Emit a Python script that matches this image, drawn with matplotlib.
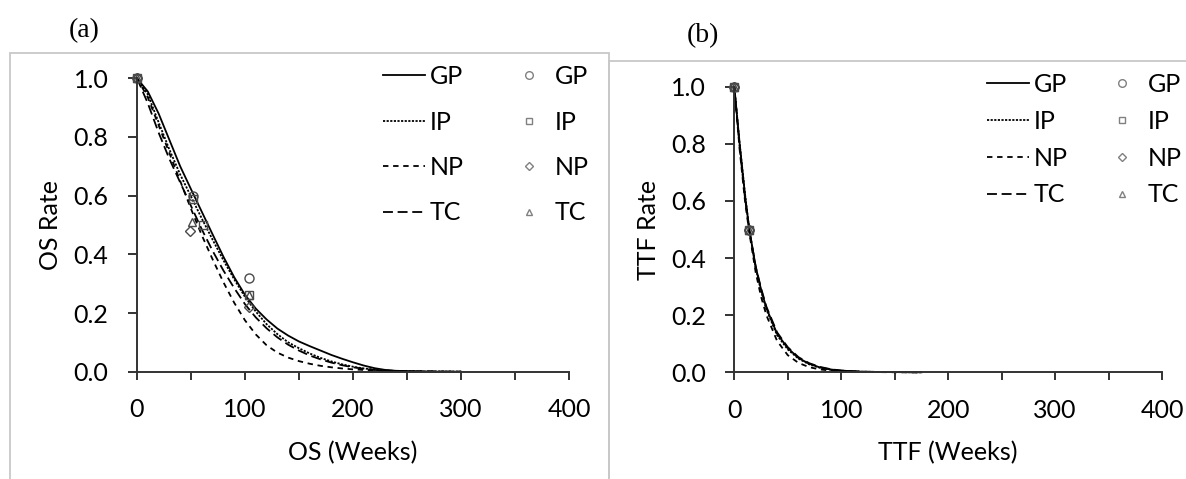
import matplotlib
matplotlib.use('Agg')
import matplotlib.pyplot as plt
from matplotlib.lines import Line2D
from matplotlib.patches import Rectangle

plt.rcParams['font.family'] = ['Lato', 'DejaVu Sans']

# ---------------- data ----------------
groups = ['GP', 'IP', 'NP', 'TC']

os_weeks = [0, 10, 20, 30, 40, 50, 60, 70, 80, 90, 100, 110, 120, 130, 140,
            150, 160, 170, 180, 190, 200, 210, 220, 230, 240, 260, 280, 300]
os_gp = [1.000, 0.955, 0.880, 0.790, 0.700, 0.622, 0.545, 0.468, 0.392, 0.322,
         0.262, 0.215, 0.178, 0.147, 0.123, 0.103, 0.087, 0.072, 0.057, 0.044,
         0.032, 0.021, 0.012, 0.006, 0.003, 0.001, 0.000, 0.000]
os_ip = [1.000, 0.945, 0.850, 0.757, 0.672, 0.597, 0.522, 0.450, 0.380, 0.315,
         0.255, 0.205, 0.162, 0.128, 0.100, 0.080, 0.062, 0.047, 0.035, 0.025,
         0.017, 0.011, 0.007, 0.004, 0.002, 0.001, 0.0005, 0.000]
os_np = [1.000, 0.935, 0.840, 0.745, 0.650, 0.555, 0.465, 0.383, 0.305, 0.235,
         0.175, 0.127, 0.090, 0.065, 0.048, 0.036, 0.027, 0.020, 0.015, 0.011,
         0.008, 0.006, 0.004, 0.003, 0.002, 0.001, 0.0005, 0.000]
os_tc = [1.000, 0.915, 0.815, 0.725, 0.645, 0.565, 0.485, 0.412, 0.345, 0.285,
         0.230, 0.185, 0.148, 0.117, 0.092, 0.072, 0.055, 0.042, 0.031, 0.022,
         0.015, 0.010, 0.006, 0.004, 0.003, 0.001, 0.0005, 0.000]

os_obs_gp_x = [0, 52, 104];      os_obs_gp_y = [1.0, 0.60, 0.32]
os_obs_ip_x = [0, 52, 61, 104];  os_obs_ip_y = [1.0, 0.59, 0.50, 0.26]
os_obs_np_x = [0, 49, 104];      os_obs_np_y = [1.0, 0.48, 0.22]
os_obs_tc_x = [0, 51, 104];      os_obs_tc_y = [1.0, 0.51, 0.26]

ttf_weeks = [0, 5, 10, 14, 20, 25, 30, 40, 50, 60, 70, 80, 90, 100, 120, 140, 160, 175]
ttf_gp = [1.0, 0.80, 0.62, 0.50, 0.37, 0.290, 0.225, 0.135, 0.085, 0.050, 0.030,
          0.017, 0.010, 0.006, 0.002, 0.001, 0.0005, 0.0]
ttf_ip = [1.0, 0.80, 0.625, 0.50, 0.365, 0.285, 0.220, 0.130, 0.080, 0.048, 0.028,
          0.016, 0.009, 0.005, 0.002, 0.001, 0.0005, 0.0]
ttf_np = [1.0, 0.78, 0.60, 0.49, 0.35, 0.265, 0.200, 0.110, 0.060, 0.033, 0.018,
          0.010, 0.006, 0.003, 0.001, 0.0005, 0.0, 0.0]
ttf_tc = [1.0, 0.79, 0.61, 0.50, 0.37, 0.295, 0.230, 0.140, 0.088, 0.053, 0.032,
          0.019, 0.011, 0.006, 0.002, 0.001, 0.0005, 0.0]

ttf_obs_x = [0, 14]
ttf_obs_y = [1.0, 0.50]

x_ticks = [0, 100, 200, 300, 400]
x_ticklabels = ['0', '100', '200', '300', '400']
y_ticks = [0.0, 0.2, 0.4, 0.6, 0.8, 1.0]
y_ticklabels = ['0.0', '0.2', '0.4', '0.6', '0.8', '1.0']

# ---------------- styles ----------------
line_styles = {
    'GP': dict(ls='-'),
    'IP': dict(ls=(0, (1.2, 0.8))),
    'NP': dict(ls=(0, (3.0, 2.6))),
    'TC': dict(ls=(0, (5.5, 2.6))),
}
markers = {'GP': 'o', 'IP': 's', 'NP': 'D', 'TC': '^'}
msizes = {'GP': 6.5, 'IP': 6.0, 'NP': 5.0, 'TC': 6.0}
lsizes = {'GP': 5.5, 'IP': 5.0, 'NP': 4.2, 'TC': 5.0}
mk_col = '#4a4a4a'
ax_col = '#333333'

W, H = 1186, 479
fig = plt.figure(figsize=(W / 100, H / 100), dpi=100)


def fx(px):
    return px / W


def fy(py):
    return 1 - py / H


# panel frames
fig.patches.append(Rectangle((fx(9.5), fy(495)), fx(609) - fx(9.5), fy(53) - fy(495),
                             transform=fig.transFigure, fill=False, ec='#c8c8c8', lw=1.3))
fig.patches.append(Rectangle((fx(609), fy(495)), fx(1200) - fx(609), fy(61) - fy(495),
                             transform=fig.transFigure, fill=False, ec='#c8c8c8', lw=1.3))

FS = 18


def setup(ax, xlabel, ylabel):
    ax.set_xlim(0, 400)
    ax.set_ylim(0, 1)
    for s in ['top', 'right']:
        ax.spines[s].set_visible(False)
    for s in ['left', 'bottom']:
        ax.spines[s].set_color(ax_col)
        ax.spines[s].set_linewidth(1.4)
    ax.set_xticks(x_ticks)
    ax.set_xticklabels(x_ticklabels)
    ax.set_xticks([50, 150, 250, 350], minor=True)
    ax.set_yticks(y_ticks)
    ax.set_yticklabels(y_ticklabels)
    ax.tick_params(axis='x', which='both', direction='out', length=6, width=1.4,
                   color=ax_col, labelsize=FS, pad=13)
    ax.tick_params(axis='y', direction='out', length=6.5, width=1.4,
                   color=ax_col, labelsize=FS, pad=14)
    ax.set_xlabel(xlabel, fontsize=FS, labelpad=14)
    ax.set_ylabel(ylabel, fontsize=FS, labelpad=8)


def draw(ax, xs, series, obs, legend_anchor, labelspacing, colspacing):
    for g in groups:
        ax.plot(xs, series[g], color='black', lw=1.3, clip_on=False, **line_styles[g])
    for g in groups:
        ox, oy = obs[g]
        ax.plot(ox, oy, ls='none', marker=markers[g], ms=msizes[g], mfc='none',
                mec=mk_col, mew=1.0, clip_on=False)
    handles = []
    for g in groups:
        handles.append(Line2D([], [], color='black', lw=1.3, **line_styles[g]))
    for g in groups:
        handles.append(Line2D([], [], ls='none', marker=markers[g], ms=lsizes[g],
                              mfc='none', mec='#808080', mew=1.0))
    labels = groups + groups
    ax.legend(handles, labels, ncol=2, loc='upper left',
              bbox_to_anchor=legend_anchor, bbox_transform=fig.transFigure,
              frameon=False, fontsize=FS, borderpad=0, borderaxespad=0,
              handlelength=1.68, handletextpad=0.2, columnspacing=colspacing,
              labelspacing=labelspacing)


# panel (a)
ax1 = fig.add_axes([fx(137), fy(371.7), fx(569) - fx(137), fy(78.3) - fy(371.7)])
setup(ax1, 'OS (Weeks)', 'OS Rate')
draw(ax1, os_weeks,
     {'GP': os_gp, 'IP': os_ip, 'NP': os_np, 'TC': os_tc},
     {'GP': (os_obs_gp_x, os_obs_gp_y), 'IP': (os_obs_ip_x, os_obs_ip_y),
      'NP': (os_obs_np_x, os_obs_np_y), 'TC': (os_obs_tc_x, os_obs_tc_y)},
     (fx(383), fy(65)), 0.9, 1.75)

# panel (b)
ax2 = fig.add_axes([fx(734.3), fy(372.3), fx(1162) - fx(734.3), fy(86.7) - fy(372.3)])
setup(ax2, 'TTF (Weeks)', 'TTF Rate')
draw(ax2, ttf_weeks,
     {'GP': ttf_gp, 'IP': ttf_ip, 'NP': ttf_np, 'TC': ttf_tc},
     {g: (ttf_obs_x, ttf_obs_y) for g in groups},
     (fx(987), fy(73)), 0.55, 1.3)

fig.text(fx(84), fy(31), '(a)', fontsize=20, family=['Liberation Serif'],
         ha='center', va='center')
fig.text(fx(703), fy(36), '(b)', fontsize=20, family=['Liberation Serif'],
         ha='center', va='center')

fig.savefig('out.png', dpi=100)
